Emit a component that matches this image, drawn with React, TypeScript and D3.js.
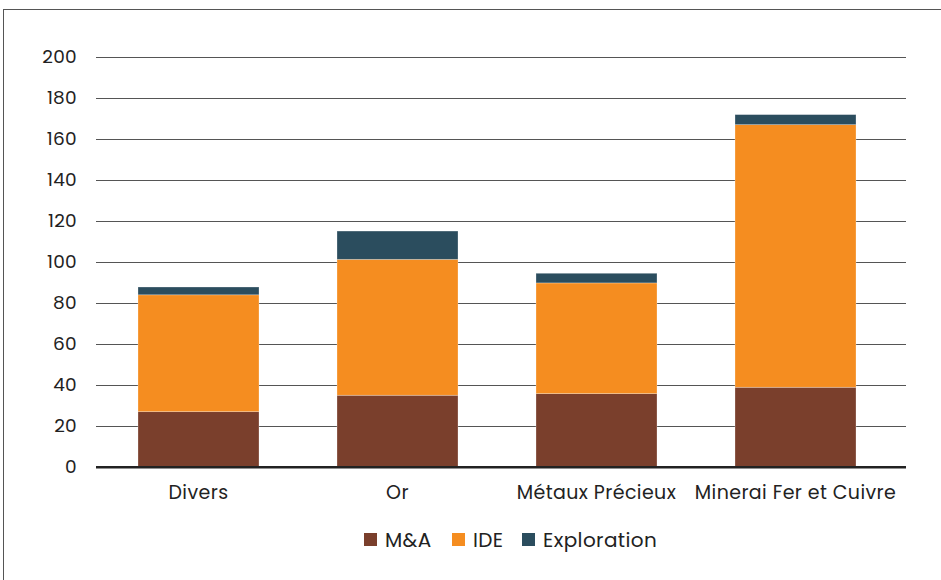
import * as d3 from "d3";

const categories = ["Divers", "Or", "Métaux Précieux", "Minerai Fer et Cuivre"];
const seriesNames = ["M&A", "IDE", "Exploration"];
const mna = [27, 35, 35.8, 38.9];
const ide = [57, 66.3, 54, 128.1];
const exploration = [3.8, 13.8, 4.7, 4.9];
const yTicks = [0, 20, 40, 60, 80, 100, 120, 140, 160, 180, 200];

const colors = ["#7a3f2c", "#f58d20", "#2b4d5e"];

export default function App() {
  const width = 941;
  const height = 580;
  const font = "Poppins, 'Open Sans', sans-serif";

  const rows = categories.map((c, i) => ({
    cat: c,
    "M&A": mna[i],
    IDE: ide[i],
    Exploration: exploration[i],
  }));
  const stacked = d3.stack<any>().keys(seriesNames)(rows);

  const x = d3.scaleBand()
    .domain(categories)
    .range([99, 895])
    .paddingInner(0.392)
    .paddingOuter(0.196);

  const y = d3.scaleLinear().domain([0, 200]).range([467, 57]);

  const gridLeft = 96;
  const gridRight = 906;

  const color = d3.scaleOrdinal<string>().domain(seriesNames).range(colors);

  // legend layout
  const legendItems = [
    { name: "M&A", x: 364 },
    { name: "IDE", x: 452 },
    { name: "Exploration", x: 522 },
  ];

  return (
    <svg
      width={width}
      height={height}
      style={{ position: "absolute", left: 0, top: 0, background: "#fff" }}
      fontFamily={font}
    >
      <rect x={3.5} y={9.5} width={width} height={height} fill="none" stroke="#555" strokeWidth={1} />

      {/* grid */}
      <g>
        {yTicks.map((t) => (
          <g key={t}>
            <line
              x1={gridLeft}
              x2={gridRight}
              y1={Math.round(y(t)) + 0.5}
              y2={Math.round(y(t)) + 0.5}
              stroke={t === 0 ? "#222" : "#555"}
              strokeWidth={t === 0 ? 2 : 1}
            />
            <text
              x={77}
              y={y(t)}
              dy="0.35em"
              textAnchor="end"
              fontSize={18.5}
              letterSpacing={0.3}
              fill="#222"
            >
              {t}
            </text>
          </g>
        ))}
      </g>

      {/* bars */}
      {stacked.map((s) => (
        <g key={s.key} fill={color(s.key)}>
          {s.map((d: any) => (
            <rect
              key={d.data.cat}
              x={x(d.data.cat)}
              y={y(d[1])}
              width={x.bandwidth()}
              height={y(d[0]) - y(d[1])}
              stroke="#ffffff"
              strokeOpacity={0.35}
              strokeWidth={0.75}
            />
          ))}
        </g>
      ))}

      {/* zero line on top */}
      <line x1={gridLeft} x2={gridRight} y1={y(0)} y2={y(0)} stroke="#222" strokeWidth={2} />

      {/* x labels */}
      {categories.map((c) => (
        <text
          key={c}
          x={(x(c) ?? 0) + x.bandwidth() / 2}
          y={499}
          textAnchor="middle"
          fontSize={19}
          letterSpacing={0.4}
          fill="#222"
        >
          {c}
        </text>
      ))}

      {/* legend */}
      {legendItems.map((l) => (
        <g key={l.name} transform={`translate(${l.x},533)`}>
          <rect x={0} y={0} width={13} height={13} fill={color(l.name)} />
          <text x={21} y={6.5} dy="0.35em" fontSize={20} letterSpacing={0.4} fill="#222">
            {l.name}
          </text>
        </g>
      ))}
    </svg>
  );
}
